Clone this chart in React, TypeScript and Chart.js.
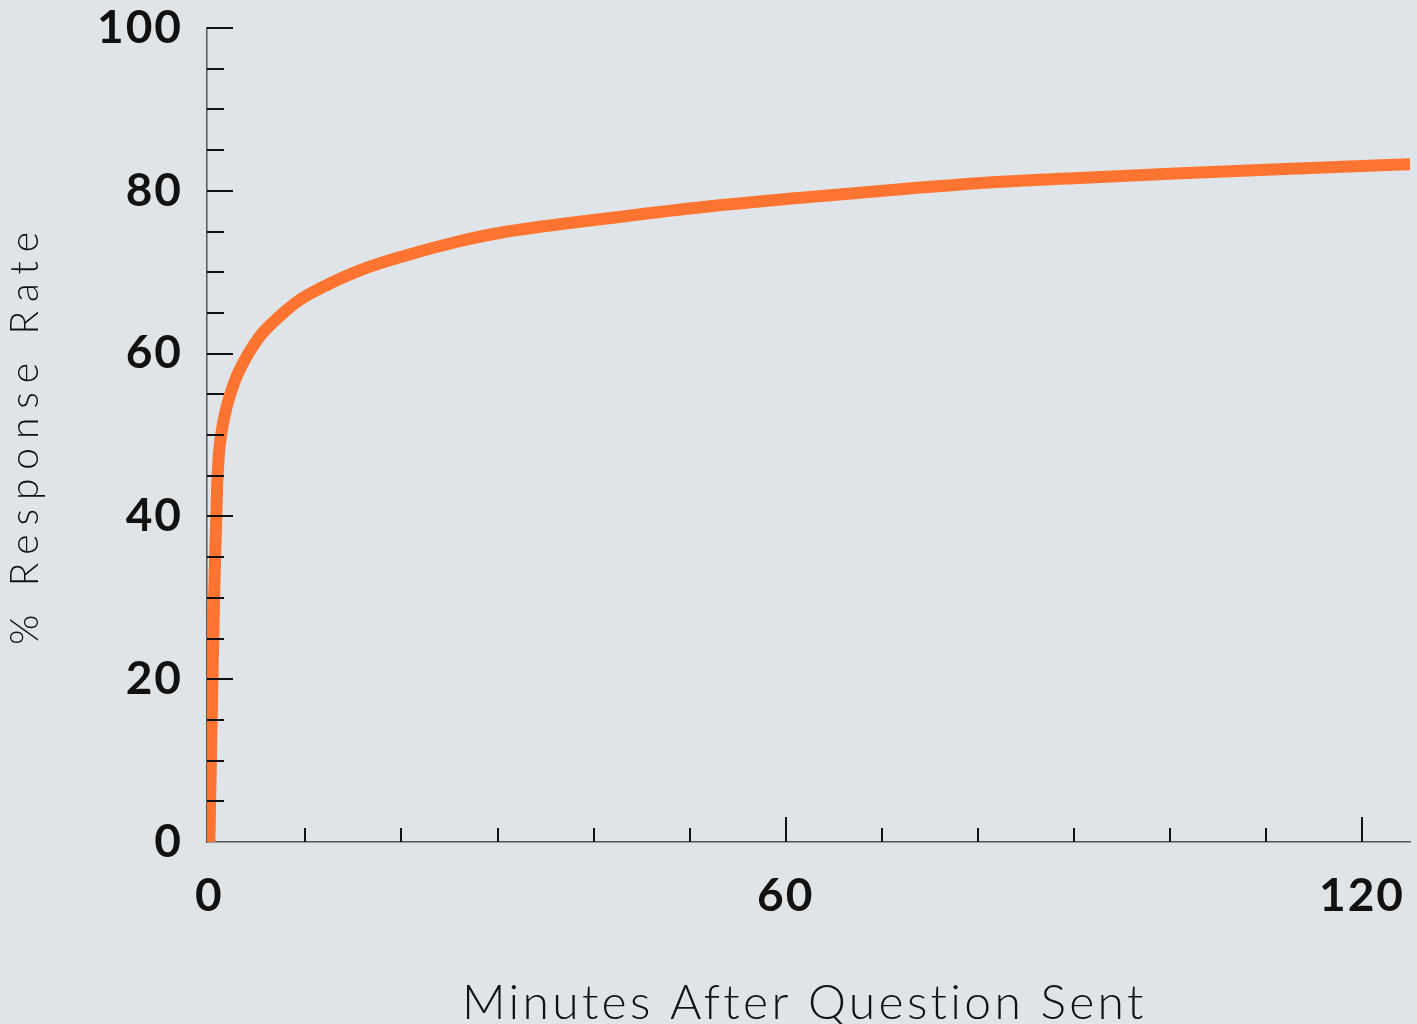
import React, { useEffect, useRef } from "react";
import { Chart, registerables } from "chart.js";

Chart.register(...registerables);

// ---- data ----
const MINUTES = [0, 0.3, 0.55, 0.8, 1.0, 1.3, 1.7, 2.2, 2.8, 4, 5.3, 6.5, 7.8, 9.4, 12, 15.6, 20, 26, 30.3, 40.7, 51, 61.6, 72, 82.5, 90, 100, 110, 120, 125];
const RESPONSE_RATE = [0, 19, 33, 43.5, 47.8, 50.6, 53.0, 55.1, 57.1, 59.9, 62.2, 63.7, 65.1, 66.6, 68.3, 70.2, 71.9, 73.8, 74.85, 76.5, 77.95, 79.15, 80.2, 81.1, 81.55, 82.1, 82.6, 83.05, 83.25];
const X_TICK_LABELS = [0, 60, 120];
const Y_TICK_LABELS = [0, 20, 40, 60, 80, 100];
const X_MINOR_TICKS = [10, 20, 30, 40, 50, 60, 70, 80, 90, 100, 110, 120];
const Y_MINOR_TICKS = [5, 10, 15, 20, 25, 30, 35, 40, 45, 50, 55, 60, 65, 70, 75, 80, 85, 90, 95, 100];
const X_TITLE = "Minutes After Question Sent";
const Y_TITLE = "% Response Rate";

const BG = "#dfe4e8";
const ORANGE = "#ff7430";
const INK = "#111111";

function drawSpaced(ctx: any, text: string, font: string, targetWidth: number) {
  ctx.font = font;
  ctx.letterSpacing = "0px";
  const w = ctx.measureText(text).width;
  const n = Math.max(text.length - 1, 1);
  const sp = Math.max((targetWidth - w) / n, 0);
  ctx.letterSpacing = sp.toFixed(2) + "px";
  ctx.textAlign = "left";
  ctx.fillText(text, 0, 0);
  ctx.letterSpacing = "0px";
}

export default function App() {
  const ref = useRef<HTMLCanvasElement>(null);

  useEffect(() => {
    document.body.style.margin = "0";
    document.body.style.background = BG;
    const canvas = ref.current!;

    const bgPlugin = {
      id: "bg",
      beforeDraw(chart: any) {
        const { ctx, width, height } = chart;
        ctx.save();
        ctx.fillStyle = BG;
        ctx.fillRect(0, 0, width, height);
        ctx.restore();
        ctx.letterSpacing = "2px";
      },
    };

    const decoPlugin = {
      id: "deco",
      afterDraw(chart: any) {
        const { ctx, chartArea, scales } = chart;
        const xs = scales.x;
        const ys = scales.y;
        ctx.save();
        ctx.letterSpacing = "0px";
        ctx.strokeStyle = INK;
        ctx.lineWidth = 2;
        for (const v of Y_MINOR_TICKS) {
          const py = Math.round(ys.getPixelForValue(v));
          const len = Y_TICK_LABELS.includes(v) ? 26 : 17;
          ctx.beginPath();
          ctx.moveTo(chartArea.left, py);
          ctx.lineTo(chartArea.left + len, py);
          ctx.stroke();
        }
        for (const v of X_MINOR_TICKS) {
          const px = Math.round(xs.getPixelForValue(v));
          const len = X_TICK_LABELS.includes(v) ? 25 : 14;
          ctx.beginPath();
          ctx.moveTo(px, chartArea.bottom);
          ctx.lineTo(px, chartArea.bottom - len);
          ctx.stroke();
        }
        // axis titles
        ctx.fillStyle = INK;
        ctx.textBaseline = "alphabetic";
        ctx.save();
        ctx.translate(462, 1019);
        drawSpaced(ctx, X_TITLE, "300 48px Lato", 681);
        ctx.restore();
        ctx.save();
        ctx.translate(38, 645);
        ctx.rotate(-Math.PI / 2);
        drawSpaced(ctx, Y_TITLE, "300 39px Lato", 413);
        ctx.restore();
        ctx.restore();
      },
    };

    const zeroPad = (s: any) => {
      s.paddingLeft = 0;
      s.paddingRight = 0;
      s.paddingTop = 0;
      s.paddingBottom = 0;
    };

    const chart = new Chart(canvas, {
      type: "line",
      data: {
        datasets: [
          {
            data: MINUTES.map((m, i) => ({ x: m, y: RESPONSE_RATE[i] })),
            borderColor: ORANGE,
            borderWidth: 12,
            pointRadius: 0,
            fill: false,
            cubicInterpolationMode: "monotone",
            borderCapStyle: "butt",
            borderJoinStyle: "round",
          },
        ],
      },
      options: {
        animation: false,
        responsive: false,
        events: [],
        layout: { padding: { top: 28, right: 7, left: 0, bottom: 0 } },
        plugins: {
          legend: { display: false },
          tooltip: { enabled: false },
          title: { display: false },
        },
        scales: {
          x: {
            type: "linear",
            min: -0.25,
            max: 125,
            z: 1,
            grid: { display: false, drawTicks: false },
            border: { display: true, color: "#555555", width: 1.5 },
            afterBuildTicks: (s: any) => {
              s.ticks = X_TICK_LABELS.map((v) => ({ value: v }));
            },
            afterFit: (s: any) => {
              s.height = 182;
              zeroPad(s);
            },
            ticks: {
              color: INK,
              padding: 27,
              maxRotation: 0,
              autoSkip: false,
              font: { family: "Lato", size: 46, weight: "bold" },
              callback: (v: any) => String(v),
            },
          },
          y: {
            type: "linear",
            min: 0,
            max: 100,
            z: 1,
            grid: { display: false, drawTicks: false },
            border: { display: true, color: "#555555", width: 1.5 },
            afterBuildTicks: (s: any) => {
              s.ticks = Y_TICK_LABELS.map((v) => ({ value: v }));
            },
            afterFit: (s: any) => {
              s.width = 207;
              zeroPad(s);
            },
            ticks: {
              color: INK,
              padding: 24,
              autoSkip: false,
              font: { family: "Lato", size: 46, weight: "bold" },
              callback: (v: any) => String(v),
            },
          },
        },
      },
      plugins: [bgPlugin, decoPlugin],
    } as any);

    return () => chart.destroy();
  }, []);

  return (
    <div style={{ width: 1417, height: 1024, background: BG }}>
      <canvas ref={ref} width={1417} height={1024} style={{ display: "block" }} />
    </div>
  );
}
